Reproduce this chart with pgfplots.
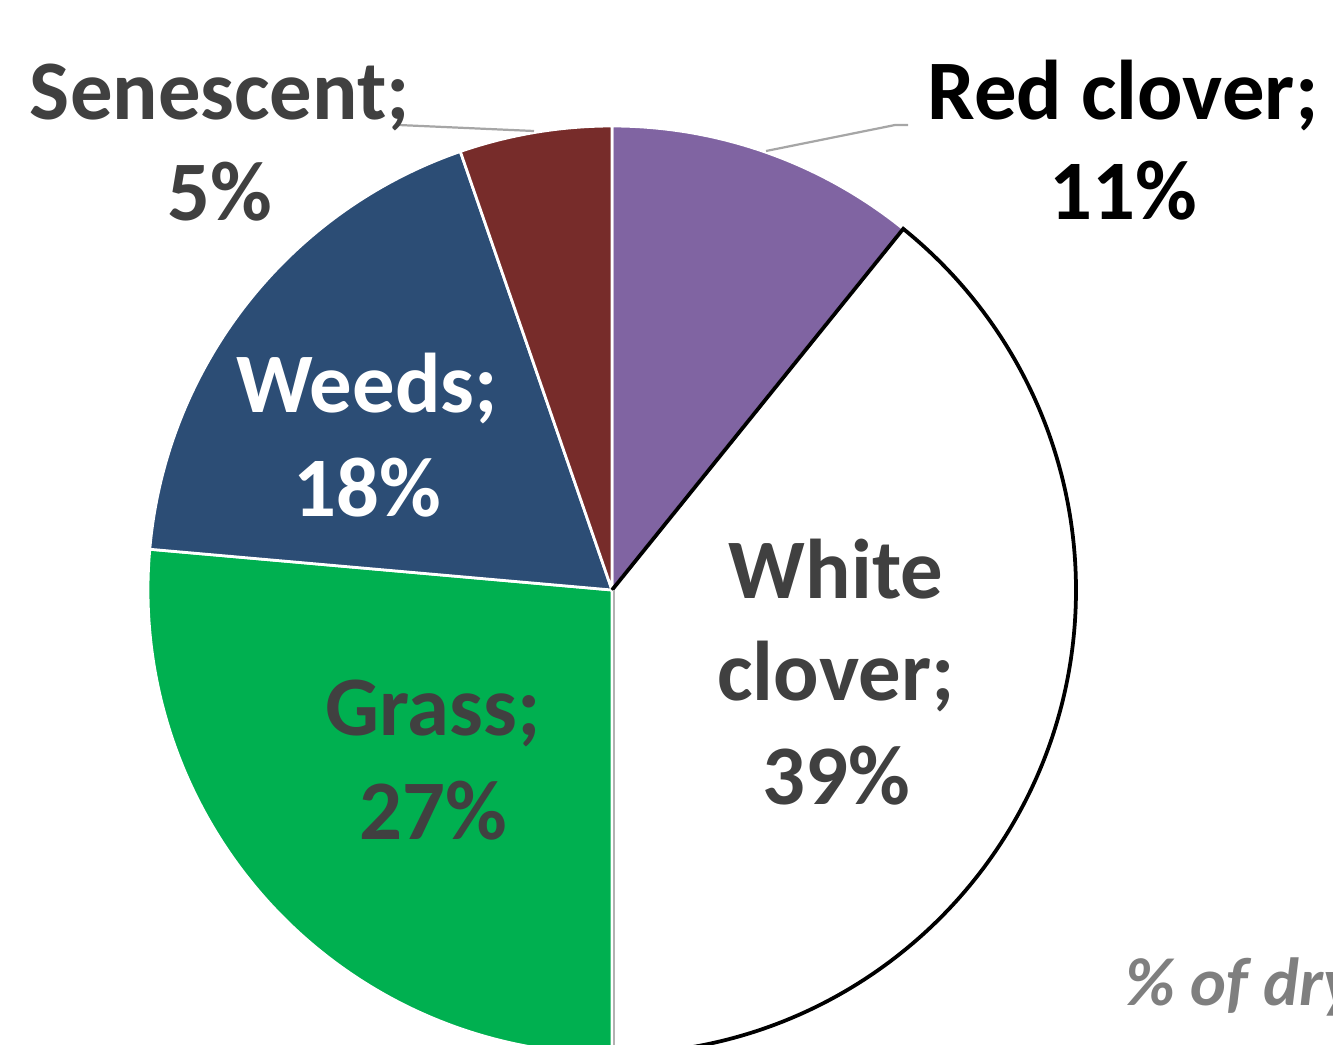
\documentclass[border=0pt]{standalone}
\usepackage{fontspec}
\setmainfont{Carlito}
\usepackage{pgfplots}
\usepackage{pgfplotstable}
\pgfplotsset{compat=1.18}

\definecolor{redclover}{HTML}{8064A2}
\definecolor{grass}{HTML}{00B050}
\definecolor{weeds}{HTML}{2C4D75}
\definecolor{senescent}{HTML}{772C2A}
\definecolor{txtgray}{HTML}{404040}
\definecolor{leader}{HTML}{A6A6A6}
\definecolor{notegray}{HTML}{7F7F7F}

\tikzset{
  slice0/.style={fill=redclover, draw=white, line width=1pt, overlay},
  slice1/.style={fill=white, draw=white, line width=1pt, overlay},
  slice2/.style={fill=grass, draw=white, line width=1pt, overlay},
  slice3/.style={fill=weeds, draw=white, line width=1pt, overlay},
  slice4/.style={fill=senescent, draw=white, line width=1pt, overlay},
  lbl/.style={font=\bfseries\fontsize{30.5}{36}\selectfont, anchor=base, inner sep=0pt},
}

% share of dry matter, clockwise from 12 o'clock
\pgfplotstableread{
name value
Red 10.8
White 39.2
Grass 26.4
Weeds 18.3
Senescent 5.3
}\piedata

\def\rad{167.04pt}

\begin{document}
\begin{tikzpicture}
\begin{axis}[
    at={(0,0)}, anchor=south west,
    x=0.36pt, y=0.36pt,
    xmin=0, xmax=1333, ymin=0, ymax=1044,
    y dir=reverse,
    hide axis, clip=true, clip mode=global,
]
\path (axis cs:0,0) rectangle (axis cs:1333,1044);
\def\cumul{0}
\pgfplotsforeachungrouped \i in {0,...,4} {
  \pgfplotstablegetelem{\i}{value}\of\piedata
  \let\val=\pgfplotsretval
  \pgfmathsetmacro\sa{90-3.6*\cumul}
  \pgfmathsetmacro\cumul{\cumul+\val}
  \pgfmathsetmacro\sb{90-3.6*\cumul}
  \edef\temp{\noexpand\path[slice\i] (axis cs:612,590) -- ++(\sa:\rad)
    arc[start angle=\sa, end angle=\sb, radius=\rad] -- cycle;}
  \temp
}
% outline of the white clover slice
\pgfplotstablegetelem{0}{value}\of\piedata
\pgfmathsetmacro\wa{90-3.6*\pgfplotsretval}
\pgfplotstablegetelem{1}{value}\of\piedata
\pgfmathsetmacro\wb{\wa-3.6*\pgfplotsretval}
\edef\temp{\noexpand\draw[black, line width=1.35pt, overlay] (axis cs:612,590) ++(\wb:\rad)
  arc[start angle=\wb, end angle=\wa, radius=\rad] -- (axis cs:612,590);
  \noexpand\draw[black!30, line width=0.4pt, overlay] (axis cs:614,590) -- ++(\wb:\rad);}
\temp

% leader lines
\draw[leader, line width=0.8pt] (axis cs:399,125) -- (axis cs:534,131);
\draw[leader, line width=0.8pt] (axis cs:766,151) -- (axis cs:895,125) -- (axis cs:908,125);

% labels
\node[lbl, txtgray] at (axis cs:220,119) {Senescent;};
\node[lbl, txtgray] at (axis cs:220,220) {5\%};
\node[lbl, black] at (axis cs:1123,119) {Red clover;};
\node[lbl, black] at (axis cs:1123,219) {11\%};
\node[lbl, white] at (axis cs:367,412) {Weeds;};
\node[lbl, white] at (axis cs:367,516) {18\%};
\node[lbl, txtgray] at (axis cs:836,598) {White};
\node[lbl, txtgray] at (axis cs:836,700) {clover;};
\node[lbl, txtgray] at (axis cs:836,804) {39\%};
\node[lbl, txtgray] at (axis cs:433,735) {Grass;};
\node[lbl, txtgray] at (axis cs:433,839) {27\%};
\node[notegray, font=\bfseries\itshape\fontsize{24.5}{29}\selectfont, anchor=base west, inner sep=0pt, overlay]
  at (axis cs:1125,1005) {\% of dry matter};
\end{axis}
\end{tikzpicture}
\end{document}
